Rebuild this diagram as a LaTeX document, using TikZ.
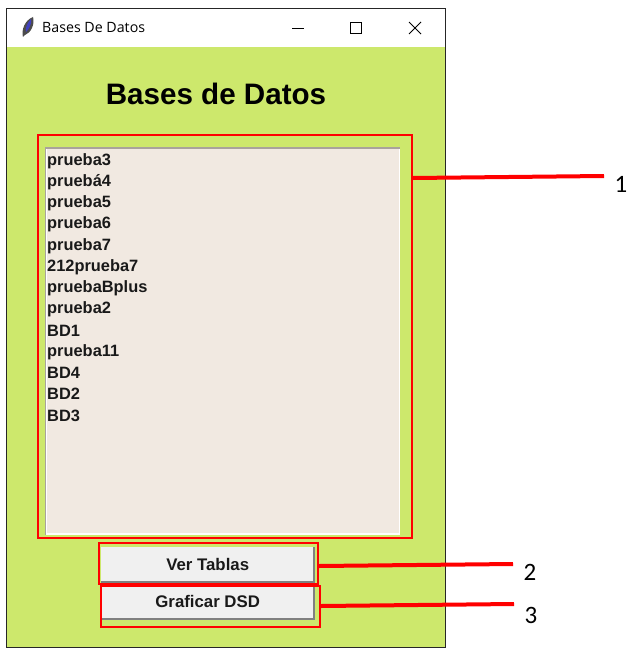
\documentclass[tikz,border=0pt]{standalone}
\usepackage{fontspec}
\setmainfont{Liberation Sans}
\newfontfamily\calloutfont{Carlito}
\newfontfamily\titlebarfont{Open Sans}
\usetikzlibrary{positioning}
\definecolor{appgreen}{HTML}{CDE86C}
\definecolor{listbg}{HTML}{F1E9E1}
\definecolor{btnbg}{HTML}{F0F0F0}
\definecolor{edgegray}{HTML}{A9A39C}
\tikzset{
  redbox/.style={draw=red, line width=2pt, inner sep=0pt, anchor=north west},
  redline/.style={draw=red, line width=4pt},
  gui button/.style={fill=btnbg, inner sep=0pt, anchor=north west, minimum width=213pt,
    minimum height=35pt, font=\bfseries\fontsize{16.8}{16.8}\selectfont, text=black!90},
  list entry/.style={inner sep=0pt, below=21.2pt of #1.west, anchor=west,
    font=\bfseries\fontsize{16.4}{16.4}\selectfont, text=black!90},
  callout/.style={inner sep=0pt, font=\calloutfont\fontsize{25}{25}\selectfont},
  wincontrol/.style={draw=black, line width=0.8pt}
}
\begin{document}
\begin{tikzpicture}[x=1pt,y=-1pt]
  \useasboundingbox (0,0) rectangle (634,655);
  \fill[white] (0,0) rectangle (634,655);

  % window
  \node (window) [draw=black!85, fill=appgreen, line width=1pt, inner sep=0pt, anchor=north west,
    minimum width=439pt, minimum height=638pt] at (6,8.5) {};
  \node (titlebar) [fill=white, inner sep=0pt, anchor=north west, minimum width=438pt,
    minimum height=38pt] at (6.5,9) {};
  \node (wintitle) [inner sep=0pt, anchor=west, font=\titlebarfont\fontsize{14.2}{14.2}\selectfont]
    at (42,28) {Bases De Datos};

  % feather icon and window buttons
  \fill[black!70] (23,37) .. controls (21,30) and (25,20) .. (33,17) .. controls (35,24) and (31,33) .. (25,35) -- cycle;
  \fill[blue!50!gray] (26,32) .. controls (25,27) and (28,22) .. (31,19) .. controls (32,24) and (29,29) .. cycle;
  \draw[wincontrol] (292,28) -- (304,28);
  \draw[wincontrol] (350.5,22.5) rectangle (361.5,33.5);
  \draw[wincontrol] (409,22) -- (421,34) (421,22) -- (409,34);

  \node (heading) [inner sep=0pt, font=\bfseries\fontsize{29.6}{29.6}\selectfont, text=black]
    at (216,94) {Bases de Datos};

  % list
  \node (listbox) [fill=listbg, draw=white, line width=1.5pt, inner sep=0pt, anchor=north west,
    minimum width=353pt, minimum height=385pt] at (45.5,148) {};
  \draw[edgegray, line width=1.5pt] (listbox.south west) -- (listbox.north west) -- (listbox.north east);

  \node (item1) [inner sep=0pt, anchor=west, font=\bfseries\fontsize{16.4}{16.4}\selectfont, text=black!90]
    at (47,161) {prueba3};
  \node (item2) [list entry=item1] {pruebá4};
  \node (item3) [list entry=item2] {prueba5};
  \node (item4) [list entry=item3] {prueba6};
  \node (item5) [list entry=item4] {prueba7};
  \node (item6) [list entry=item5] {212prueba7};
  \node (item7) [list entry=item6] {pruebaBplus};
  \node (item8) [list entry=item7] {prueba2};
  \node (item9) [list entry=item8] {BD1};
  \node (item10) [list entry=item9] {prueba11};
  \node (item11) [list entry=item10] {BD4};
  \node (item12) [list entry=item11] {BD2};
  \node (item13) [list entry=item12] {BD3};

  % buttons
  \node (verBtn) [gui button] at (101,547) {Ver Tablas};
  \node (dsdBtn) [gui button] at (101,584) {Graficar DSD};
  \draw[gray, line width=2pt] (verBtn.south west) -- (verBtn.south east) -- (verBtn.north east);
  \draw[gray, line width=2pt] (dsdBtn.south west) -- (dsdBtn.south east) -- (dsdBtn.north east);

  % red marks
  \node (markList) [redbox, minimum width=374pt, minimum height=403pt] at (37,134) {};
  \node (markVer) [redbox, minimum width=219pt, minimum height=41pt] at (98,542) {};
  \node (markDsd) [redbox, minimum width=219pt, minimum height=41pt] at (100,585) {};

  \coordinate (startA) at (markList.east |- 0,178);
  \coordinate (endA) at (604,176);
  \coordinate (startB) at (markVer.east |- 0,566);
  \coordinate (endB) at (513,564);
  \coordinate (startC) at (markDsd.east |- 0,606);
  \coordinate (endC) at (514,604);
  \draw[redline] (startA) -- (endA);
  \draw[redline] (startB) -- (endB);
  \draw[redline] (startC) -- (endC);

  \node (numA) [callout] at (621,184) {1};
  \node (numB) [callout] at (530,572) {2};
  \node (numC) [callout] at (531,615) {3};
\end{tikzpicture}
\end{document}
